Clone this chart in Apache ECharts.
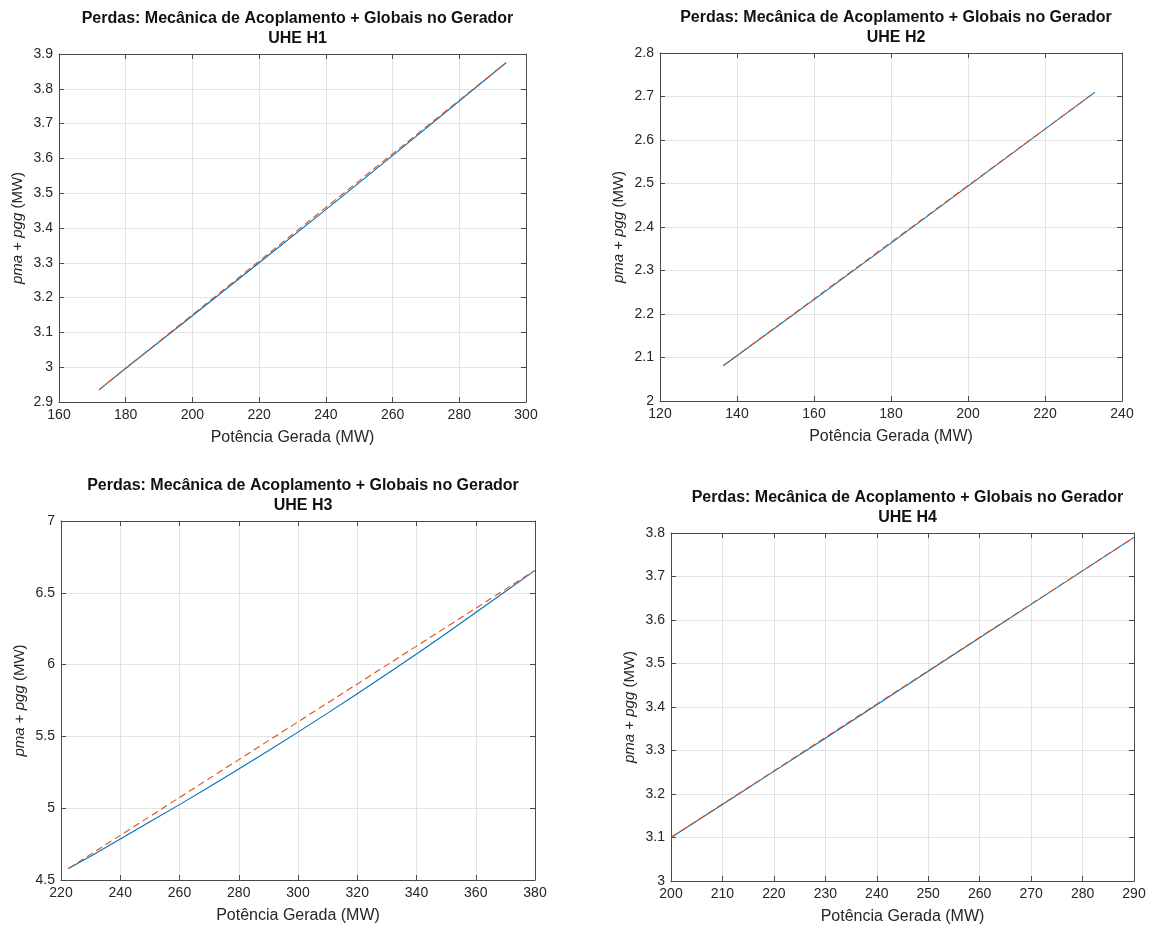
<!DOCTYPE html>
<html>
<head>
<meta charset="utf-8">
<script src="https://cdn.jsdelivr.net/npm/echarts@6/dist/echarts.min.js"></script>
<style>
  html, body { margin: 0; padding: 0; background: #fff; }
  #chart { width: 1153px; height: 929px; }
</style>
</head>
<body>
<div id="chart"></div>
<script>
// Losses (MW) versus generated power (MW) for four hydro plants.
// Solid: computed losses; dashed: linear approximation.
const titleText = 'Perdas: Mecânica de Acoplamento + Globais no Gerador';
const plantNames = ['UHE H1', 'UHE H2', 'UHE H3', 'UHE H4'];

const h1Power = [172, 180, 200, 220, 240, 260, 280, 294];
const h1Loss = [2.935, 2.997, 3.148, 3.300, 3.453, 3.608, 3.765, 3.875];
const h1LinPower = [172, 294];
const h1LinLoss = [2.935, 3.875];

const h2Power = [136.4, 140, 160, 180, 200, 220, 233];
const h2Loss = [2.081, 2.104, 2.233, 2.363, 2.494, 2.625, 2.710];
const h2LinPower = [136.4, 233];
const h2LinLoss = [2.081, 2.710];

const h3Power = [222.5, 230, 240, 250, 260, 270, 280, 290, 300, 310, 320, 330, 340, 350, 360, 370, 380];
const h3Loss = [4.580, 4.665, 4.785, 4.905, 5.025, 5.148, 5.273, 5.400, 5.530, 5.662, 5.797, 5.934, 6.074, 6.217, 6.363, 6.509, 6.656];
const h3LinPower = [222.5, 380];
const h3LinLoss = [4.580, 6.656];

const h4Power = [200, 210, 220, 230, 240, 250, 260, 270, 280, 290];
const h4Loss = [3.100, 3.176, 3.252, 3.328, 3.405, 3.482, 3.559, 3.636, 3.713, 3.790];
const h4LinPower = [200, 290];
const h4LinLoss = [3.100, 3.790];

// Axis ranges: [min, max, interval]
const xRanges = [[160, 300, 20], [120, 240, 20], [220, 380, 20], [200, 290, 10]];
const yRanges = [[2.9, 3.9, 0.1], [2.0, 2.8, 0.1], [4.5, 7.0, 0.5], [3.0, 3.8, 0.1]];

const xName = 'Potência Gerada (MW)';
const yName = '{i|pma} + {i|pgg} (MW)';

const panels = [
  { power: h1Power, loss: h1Loss, linP: h1LinPower, linL: h1LinLoss, box: { left: 59, top: 54, width: 467, height: 348 } },
  { power: h2Power, loss: h2Loss, linP: h2LinPower, linL: h2LinLoss, box: { left: 660, top: 53, width: 462, height: 348 } },
  { power: h3Power, loss: h3Loss, linP: h3LinPower, linL: h3LinLoss, box: { left: 61, top: 521, width: 474, height: 359 } },
  { power: h4Power, loss: h4Loss, linP: h4LinPower, linL: h4LinLoss, box: { left: 671, top: 533, width: 463, height: 348 } }
];

const axisColor = '#4a4a4a';
const textColor = '#262626';
const gridColor = '#e3e3e3';
const fontFamily = 'Liberation Sans, Arial, Helvetica, sans-serif';

const grid = [], xAxis = [], yAxis = [], series = [], title = [];

panels.forEach((p, i) => {
  grid.push(Object.assign({ containLabel: false }, p.box));

  title.push({
    text: titleText + '\n' + plantNames[i],
    left: p.box.left + p.box.width / 2,
    top: p.box.top - 50,
    textAlign: 'center',
    textStyle: { fontFamily, fontSize: 16, fontWeight: 'bold', color: '#111', lineHeight: 20 }
  });

  const [xmin, xmax, xint] = xRanges[i];
  const [ymin, ymax, yint] = yRanges[i];
  const line = { show: true, onZero: false, lineStyle: { color: axisColor, width: 1 } };
  const tick = { show: true, inside: true, length: 5, lineStyle: { color: axisColor } };

  // bottom x axis (carries data)
  xAxis.push({
    type: 'value', gridIndex: i, position: 'bottom', min: xmin, max: xmax, interval: xint,
    axisLine: line, axisTick: tick,
    axisLabel: { color: textColor, fontSize: 14, fontFamily, margin: 6 },
    splitLine: { show: true, lineStyle: { color: gridColor, width: 1 } },
    name: xName, nameLocation: 'middle', nameGap: 28,
    nameTextStyle: { color: textColor, fontSize: 16, fontFamily }
  });
  // top x axis (box edge with ticks)
  xAxis.push({
    type: 'value', gridIndex: i, position: 'top', min: xmin, max: xmax, interval: xint,
    axisLine: line, axisTick: tick, axisLabel: { show: false }, splitLine: { show: false }
  });
  // left y axis (carries data)
  yAxis.push({
    type: 'value', gridIndex: i, position: 'left', min: ymin, max: ymax, interval: yint,
    axisLine: line, axisTick: tick,
    axisLabel: { color: textColor, fontSize: 14, fontFamily, margin: 6 },
    splitLine: { show: true, lineStyle: { color: gridColor, width: 1 } },
    name: yName, nameLocation: 'middle', nameGap: 34, nameRotate: 90,
    nameTextStyle: {
      color: textColor, fontSize: 15, fontFamily,
      rich: { i: { fontStyle: 'italic', fontSize: 15, fontFamily, color: textColor } }
    }
  });
  // right y axis (box edge with ticks)
  yAxis.push({
    type: 'value', gridIndex: i, position: 'right', min: ymin, max: ymax, interval: yint,
    axisLine: line, axisTick: tick, axisLabel: { show: false }, splitLine: { show: false }
  });

  series.push({
    type: 'line', xAxisIndex: 2 * i, yAxisIndex: 2 * i, showSymbol: false, symbol: 'none',
    smooth: false, animation: false,
    lineStyle: { color: '#0072BD', width: 1.1 },
    data: p.power.map((x, k) => [x, p.loss[k]])
  });
  series.push({
    type: 'line', xAxisIndex: 2 * i, yAxisIndex: 2 * i, showSymbol: false, symbol: 'none',
    animation: false,
    lineStyle: { color: '#D95319', width: 1.1, type: [7, 4] },
    data: p.linP.map((x, k) => [x, p.linL[k]])
  });
});

const chart = echarts.init(document.getElementById('chart'), null, { renderer: 'canvas' });
chart.setOption({
  backgroundColor: '#ffffff',
  animation: false,
  textStyle: { fontFamily },
  title, grid, xAxis, yAxis, series
});
</script>
</body>
</html>
